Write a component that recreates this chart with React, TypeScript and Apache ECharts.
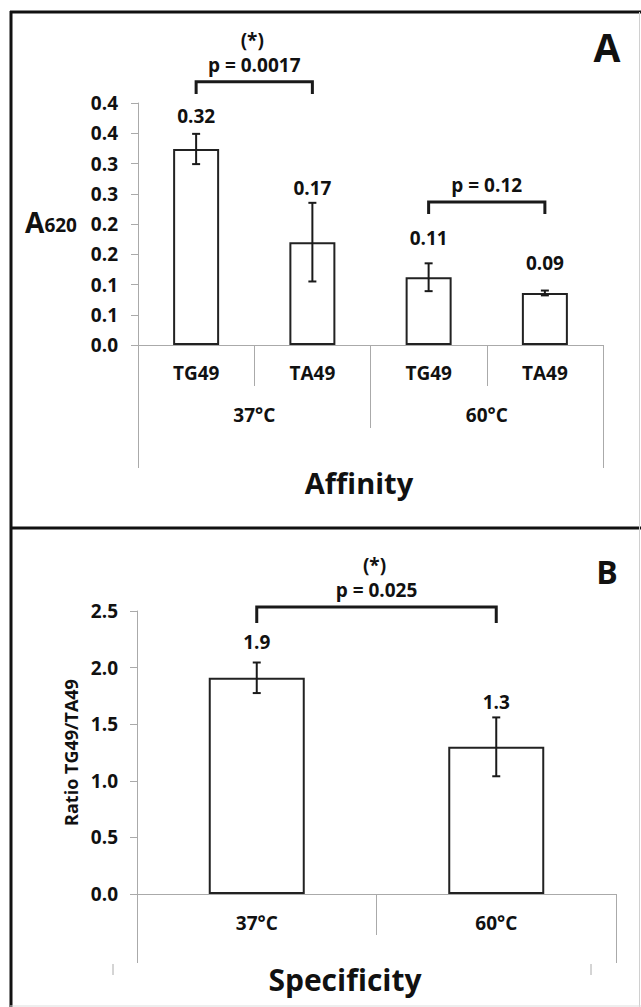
import React, { useEffect, useRef } from "react";
import * as echarts from "echarts";

// ---------- Panel A (Affinity) ----------
const catsA = ["TG49", "TA49", "TG49", "TA49"];
const tempsA = ["37°C", "60°C"];
const valuesA = [0.324, 0.17, 0.112, 0.086];
const errA = [0.025, 0.065, 0.023, 0.004];
const labelPosA = [0.378, 0.26, 0.177, 0.136];
const tickLabelsA = ["0.0", "0.1", "0.1", "0.2", "0.2", "0.3", "0.3", "0.4", "0.4"];
// [fromIndex, toIndex, barTop, legBottom]
const bracketsA = [
  [0, 1, 0.435, 0.415],
  [2, 3, 0.2364, 0.2165],
];
const bracketTextA = [
  ["(*)", "p = 0.0017"],
  ["", "p = 0.12"],
];

// ---------- Panel B (Specificity) ----------
const catsB = ["37°C", "60°C"];
const valuesB = [1.91, 1.3];
const errB = [0.135, 0.26];
const labelPosB = [2.226, 1.696];
const bracketsB = [[0, 1, 2.535, 2.394]];
const bracketTextB = [["(*)", "p = 0.025"]];

const FONT = "Open Sans";
const INK = "#111";
const AXIS = "#aaaaaa";
const FS = 19;

const errorRender = (params: any, api: any) => {
  const x = api.value(0);
  const lo = api.coord([x, api.value(1)]);
  const hi = api.coord([x, api.value(2)]);
  const w = 4;
  const st = { stroke: "#1a1a1a", lineWidth: 2 };
  return {
    type: "group",
    children: [
      { type: "line", shape: { x1: lo[0], y1: lo[1], x2: hi[0], y2: hi[1] }, style: st },
      { type: "line", shape: { x1: lo[0] - w, y1: lo[1], x2: lo[0] + w, y2: lo[1] }, style: st },
      { type: "line", shape: { x1: hi[0] - w, y1: hi[1], x2: hi[0] + w, y2: hi[1] }, style: st },
    ],
  };
};

const makeLabelRender = (values: number[], digits: number) => (params: any, api: any) => {
  const p = api.coord([api.value(0), api.value(1)]);
  return {
    type: "text",
    x: p[0],
    y: p[1],
    style: {
      text: values[params.dataIndex].toFixed(digits),
      align: "center",
      verticalAlign: "middle",
      fill: INK,
      fontSize: FS,
      fontWeight: "bold",
      fontFamily: FONT,
    },
  };
};

const makeBracketRender = (texts: string[][]) => (params: any, api: any) => {
  const a = api.coord([api.value(0), api.value(2)]);
  const b = api.coord([api.value(1), api.value(2)]);
  const la = api.coord([api.value(0), api.value(3)]);
  const lb = api.coord([api.value(1), api.value(3)]);
  const mid = (a[0] + b[0]) / 2;
  const [star, ptxt] = texts[params.dataIndex];
  const ts = {
    align: "center",
    verticalAlign: "middle",
    fill: INK,
    fontSize: FS,
    fontWeight: "bold",
    fontFamily: FONT,
  };
  const children: any[] = [
    {
      type: "polyline",
      shape: { points: [la, a, b, lb] },
      style: { stroke: "#1a1a1a", lineWidth: 3, fill: "none" },
    },
    { type: "text", x: mid, y: a[1] - 17, style: { ...ts, text: ptxt } },
  ];
  if (star) children.push({ type: "text", x: mid - 2, y: a[1] - 42, style: { ...ts, text: star } });
  return { type: "group", children };
};

const axisFont = { fontSize: FS, fontWeight: "bold" as const, fontFamily: FONT, color: INK };

export default function App() {
  const ref = useRef<HTMLDivElement>(null);
  useEffect(() => {
    if (!ref.current) return;
    const chart = echarts.init(ref.current, undefined, { renderer: "svg" });
    const barStyle = { color: "#ffffff", borderColor: "#222", borderWidth: 2 };
    chart.setOption({
      animation: false,
      backgroundColor: "#ffffff",
      textStyle: { fontFamily: FONT },
      grid: [
        { left: 138, top: 103, width: 465, height: 242 },
        { left: 137, top: 611, width: 479, height: 283 },
      ],
      xAxis: [
        {
          gridIndex: 0,
          type: "category",
          data: catsA,
          position: "bottom",
          axisLine: { show: true, lineStyle: { color: AXIS, width: 1 } },
          axisTick: { show: true, length: 41, lineStyle: { color: AXIS } },
          axisLabel: { ...axisFont, margin: 18 },
        },
        {
          gridIndex: 0,
          type: "category",
          data: tempsA,
          position: "bottom",
          offset: 41,
          axisLine: { show: false },
          axisTick: { show: true, length: 42, lineStyle: { color: AXIS } },
          axisLabel: { ...axisFont, margin: 19 },
        },
        {
          gridIndex: 0,
          type: "category",
          data: [""],
          position: "bottom",
          offset: 83,
          axisLine: { show: false },
          axisTick: { show: true, length: 40, lineStyle: { color: AXIS } },
          axisLabel: { show: false },
        },
        {
          gridIndex: 1,
          type: "category",
          data: catsB,
          position: "bottom",
          axisLine: { show: true, lineStyle: { color: AXIS, width: 1 } },
          axisTick: { show: true, length: 41, lineStyle: { color: AXIS } },
          axisLabel: { ...axisFont, margin: 19 },
        },
        {
          gridIndex: 1,
          type: "category",
          data: [""],
          position: "bottom",
          offset: 41,
          axisLine: { show: false },
          axisTick: { show: true, length: 28, lineStyle: { color: AXIS } },
          axisLabel: { show: false },
        },
      ],
      yAxis: [
        {
          gridIndex: 0,
          type: "value",
          min: 0,
          max: 0.4,
          interval: 0.05,
          axisLine: { show: true, lineStyle: { color: AXIS } },
          axisTick: { show: true, length: 7, lineStyle: { color: AXIS } },
          splitLine: { show: false },
          axisLabel: {
            ...axisFont,
            margin: 20,
            formatter: (v: number) => tickLabelsA[Math.round(v / 0.05)] ?? "",
          },
        },
        {
          gridIndex: 1,
          type: "value",
          min: 0,
          max: 2.5,
          interval: 0.5,
          axisLine: { show: true, lineStyle: { color: AXIS } },
          axisTick: { show: true, length: 7, lineStyle: { color: AXIS } },
          splitLine: { show: false },
          axisLabel: { ...axisFont, margin: 19, formatter: (v: number) => v.toFixed(1) },
          name: "Ratio TG49/TA49",
          nameLocation: "middle",
          nameGap: 50,
          nameTextStyle: { fontSize: 18, fontWeight: "bold", fontFamily: FONT, color: INK },
        },
      ],
      series: [
        {
          type: "bar",
          xAxisIndex: 0,
          yAxisIndex: 0,
          data: valuesA,
          barWidth: 46,
          itemStyle: barStyle,
        },
        {
          type: "custom",
          xAxisIndex: 0,
          yAxisIndex: 0,
          data: valuesA.map((v, i) => [i, v - errA[i], v + errA[i]]),
          renderItem: errorRender,
          z: 5,
        },
        {
          type: "custom",
          xAxisIndex: 0,
          yAxisIndex: 0,
          clip: false,
          data: labelPosA.map((p, i) => [i, p]),
          renderItem: makeLabelRender(valuesA, 2),
          z: 5,
        },
        {
          type: "custom",
          xAxisIndex: 0,
          yAxisIndex: 0,
          clip: false,
          data: bracketsA,
          encode: { x: 0, y: 2 },
          renderItem: makeBracketRender(bracketTextA),
          z: 5,
        },
        {
          type: "bar",
          xAxisIndex: 3,
          yAxisIndex: 1,
          data: valuesB,
          barWidth: 96,
          itemStyle: barStyle,
        },
        {
          type: "custom",
          xAxisIndex: 3,
          yAxisIndex: 1,
          data: valuesB.map((v, i) => [i, v - errB[i], v + errB[i]]),
          renderItem: errorRender,
          z: 5,
        },
        {
          type: "custom",
          xAxisIndex: 3,
          yAxisIndex: 1,
          clip: false,
          data: labelPosB.map((p, i) => [i, p]),
          renderItem: makeLabelRender(valuesB, 1),
          z: 5,
        },
        {
          type: "custom",
          xAxisIndex: 3,
          yAxisIndex: 1,
          clip: false,
          data: bracketsB,
          encode: { x: 0, y: 2 },
          renderItem: makeBracketRender(bracketTextB),
          z: 5,
        },
      ],
      graphic: [
        // panel frames
        { type: "line", shape: { x1: 10, y1: 12, x2: 641, y2: 12 }, style: { stroke: INK, lineWidth: 3 } },
        { type: "line", shape: { x1: 11, y1: 11, x2: 11, y2: 1007 }, style: { stroke: INK, lineWidth: 3 } },
        { type: "line", shape: { x1: 10, y1: 528, x2: 641, y2: 528 }, style: { stroke: INK, lineWidth: 3 } },
        { type: "line", shape: { x1: 639.5, y1: 12, x2: 639.5, y2: 1007 }, style: { stroke: "#d0d0d0", lineWidth: 1 } },
        { type: "line", shape: { x1: 10, y1: 1006, x2: 641, y2: 1006 }, style: { stroke: "#dddddd", lineWidth: 1 } },
        // stray ticks under panel B
        { type: "line", shape: { x1: 113, y1: 964, x2: 113, y2: 975 }, style: { stroke: AXIS, lineWidth: 1 } },
        { type: "line", shape: { x1: 591, y1: 964, x2: 591, y2: 975 }, style: { stroke: AXIS, lineWidth: 1 } },
        // panel letters
        {
          type: "text",
          x: 607,
          y: 46,
          style: { text: "A", align: "center", verticalAlign: "middle", fill: INK, fontSize: 39, fontWeight: "bold", fontFamily: FONT },
        },
        {
          type: "text",
          x: 607,
          y: 571,
          style: { text: "B", align: "center", verticalAlign: "middle", fill: INK, fontSize: 32, fontWeight: "bold", fontFamily: FONT },
        },
        // y label A
        {
          type: "text",
          x: 51,
          y: 220,
          style: {
            text: "{a|A}{b|620}",
            align: "center",
            verticalAlign: "middle",
            fill: INK,
            fontFamily: FONT,
            rich: {
              a: { fontSize: 28, fontWeight: "bold", fontFamily: FONT, fill: INK, lineHeight: 32, verticalAlign: "bottom" },
              b: { fontSize: 19, fontWeight: "bold", fontFamily: FONT, fill: INK, lineHeight: 24, verticalAlign: "bottom", padding: [0, 0, 2, 0] },
            },
          },
        },
        // axis titles
        {
          type: "text",
          x: 359,
          y: 482,
          style: { text: "Affinity", align: "center", verticalAlign: "middle", fill: INK, fontSize: 29, fontWeight: "bold", fontFamily: FONT },
        },
        {
          type: "text",
          x: 345,
          y: 979,
          style: { text: "Specificity", align: "center", verticalAlign: "middle", fill: INK, fontSize: 30, fontWeight: "bold", fontFamily: FONT },
        },
      ],
    });
    return () => chart.dispose();
  }, []);
  return (
    <div
      ref={ref}
      style={{ position: "absolute", left: 0, top: 0, width: 641, height: 1007, background: "#fff" }}
    />
  );
}
